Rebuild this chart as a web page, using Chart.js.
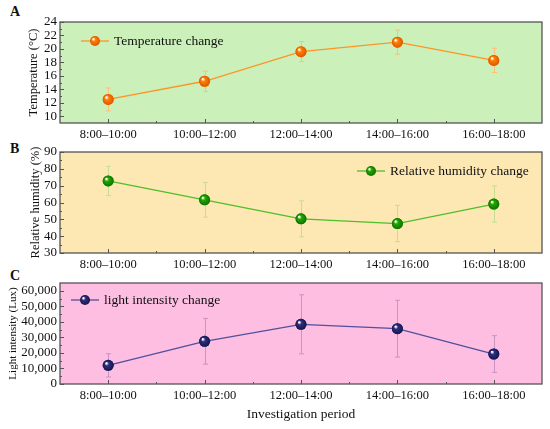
<!DOCTYPE html>
<html>
<head>
<meta charset="utf-8">
<script src="https://cdn.jsdelivr.net/npm/chart.js@4.4.0/dist/chart.umd.min.js"></script>
<style>
  body { margin: 0; background: #fff; width: 550px; height: 429px; position: relative; overflow: hidden; font-family: "Liberation Serif", serif; }
  canvas { position: absolute; left: 0; }
  .tag { position: absolute; left: 10px; font-weight: bold; font-size: 14px; line-height: 14px; color: #111; }
</style>
</head>
<body>
<span class="tag" style="top:5px">A</span>
<span class="tag" style="top:142px">B</span>
<span class="tag" style="top:269px">C</span>
<canvas id="chartA" style="top:0" width="550" height="140"></canvas>
<canvas id="chartB" style="top:140px" width="550" height="130"></canvas>
<canvas id="chartC" style="top:270px" width="550" height="159"></canvas>
<script>
// data
const periods  = ['8:00–10:00', '10:00–12:00', '12:00–14:00', '14:00–16:00', '16:00–18:00'];

const tempMean = [12.5, 15.2, 19.6, 21.0, 18.3];
const tempErr  = [1.7, 1.5, 1.5, 1.8, 1.8];
const tempTicks = [10, 12, 14, 16, 18, 20, 22, 24];

const humMean  = [72.8, 61.6, 50.3, 47.5, 59.1];
const humErr   = [8.7, 10.3, 10.7, 10.8, 10.8];
const humTicks = [30, 40, 50, 60, 70, 80, 90];

const luxMean  = [12000, 27500, 38400, 35600, 19300];
const luxErr   = [7500, 14700, 19000, 18300, 11800];
const luxTicks = [0, 10000, 20000, 30000, 40000, 50000, 60000];

const FONT = '"Liberation Serif", "Times New Roman", serif';

// sphere-like marker
function drawBall(ctx, x, y, r, base, dark) {
  const g = ctx.createRadialGradient(x - r * 0.35, y - r * 0.4, r * 0.1, x, y, r);
  g.addColorStop(0, '#ffffff');
  g.addColorStop(0.3, base);
  g.addColorStop(1, dark);
  ctx.beginPath();
  ctx.arc(x, y, r, 0, Math.PI * 2);
  ctx.fillStyle = g;
  ctx.fill();
}

const decoPlugin = {
  id: 'deco',
  beforeDraw(chart, args, o) {
    const {ctx, chartArea: a} = chart;
    ctx.save();
    ctx.fillStyle = o.bg;
    ctx.fillRect(a.left, a.top, a.right - a.left, a.bottom - a.top);
    ctx.restore();
  },
  beforeDatasetsDraw(chart, args, o) {
    const {ctx, scales: {x, y}} = chart;
    const mean = chart.data.datasets[0].data;
    ctx.save();
    ctx.strokeStyle = o.errColor;
    ctx.lineWidth = 1;
    mean.forEach((m, i) => {
      const px = Math.round(x.getPixelForValue(i)) + 0.5;
      const y1 = y.getPixelForValue(m + o.err[i]);
      const y2 = y.getPixelForValue(m - o.err[i]);
      ctx.beginPath();
      ctx.moveTo(px, y1); ctx.lineTo(px, y2);
      ctx.moveTo(px - 2.5, y1); ctx.lineTo(px + 2.5, y1);
      ctx.moveTo(px - 2.5, y2); ctx.lineTo(px + 2.5, y2);
      ctx.stroke();
    });
    ctx.restore();
  },
  afterDatasetsDraw(chart, args, o) {
    const {ctx} = chart;
    const meta = chart.getDatasetMeta(0);
    ctx.save();
    meta.data.forEach(pt => drawBall(ctx, pt.x, pt.y, 5.5, o.ball, o.ballDark));
    ctx.restore();
  },
  afterDraw(chart, args, o) {
    const {ctx, chartArea: a, scales: {x, y}} = chart;
    ctx.save();
    ctx.strokeStyle = '#555';
    ctx.lineWidth = 1.3;
    ctx.strokeRect(a.left, a.top, a.right - a.left, a.bottom - a.top);

    // inner ticks
    ctx.lineWidth = 1;
    ctx.beginPath();
    const n = chart.data.labels.length;
    for (let i = 0; i < n; i++) {
      const px = Math.round(x.getPixelForValue(i)) + 0.5;
      ctx.moveTo(px, a.bottom); ctx.lineTo(px, a.bottom - 4);
      if (i < n - 1) {
        const mx = Math.round((x.getPixelForValue(i) + x.getPixelForValue(i + 1)) / 2) + 0.5;
        ctx.moveTo(mx, a.bottom); ctx.lineTo(mx, a.bottom - 2);
      }
    }
    const t = o.ticks;
    for (let i = 0; i < t.length; i++) {
      const py = Math.round(y.getPixelForValue(t[i])) + 0.5;
      ctx.moveTo(a.left, py); ctx.lineTo(a.left + 4, py);
      if (i < t.length - 1) {
        const my = Math.round(y.getPixelForValue((t[i] + t[i + 1]) / 2)) + 0.5;
        ctx.moveTo(a.left, my); ctx.lineTo(a.left + 2, my);
      }
    }
    ctx.stroke();

    // legend inside the plot
    const lx = o.legendRight ? a.right - o.legendX : a.left + o.legendX;
    const ly = a.top + o.legendY;
    ctx.strokeStyle = o.line;
    ctx.lineWidth = 1.3;
    ctx.beginPath();
    ctx.moveTo(lx, ly); ctx.lineTo(lx + 28, ly);
    ctx.stroke();
    drawBall(ctx, lx + 14, ly, 5, o.ball, o.ballDark);
    ctx.fillStyle = '#111';
    ctx.font = '13.5px ' + FONT;
    ctx.textBaseline = 'middle';
    ctx.textAlign = 'left';
    ctx.fillText(chart.data.datasets[0].label, lx + 33, ly + 0.5);
    ctx.restore();
  }
};

function makePanel(id, p) {
  return new Chart(document.getElementById(id), {
    type: 'line',
    data: {
      labels: periods,
      datasets: [{
        label: p.label,
        data: p.mean,
        borderColor: p.line,
        borderWidth: 1.3,
        pointRadius: 5.5,
        pointBackgroundColor: p.ball,
        pointBorderWidth: 0,
        tension: 0
      }]
    },
    options: {
      responsive: false,
      animation: false,
      events: [],
      layout: { padding: { top: p.padTop, right: 8, left: 0, bottom: 0 } },
      plugins: {
        legend: { display: false },
        tooltip: { enabled: false },
        deco: {
          bg: p.bg, err: p.err, errColor: p.errColor, ticks: p.ticks,
          line: p.line, ball: p.ball, ballDark: p.ballDark,
          legendX: p.legendX, legendY: p.legendY, legendRight: p.legendRight
        }
      },
      scales: {
        x: {
          type: 'category',
          offset: true,
          grid: { display: false, drawTicks: false },
          border: { display: false },
          ticks: { font: { family: FONT, size: 12.5 }, color: '#111', padding: 4, maxRotation: 0, autoSkip: false },
          title: p.xTitle
            ? { display: true, text: p.xTitle, font: { family: FONT, size: 13.5 }, color: '#111', padding: { bottom: 6, top: 0 } }
            : { display: false },
          afterFit: s => { s.height = p.xHeight; }
        },
        y: {
          min: p.min,
          max: p.max,
          grid: { display: false, drawTicks: false },
          border: { display: false },
          afterBuildTicks: s => { s.ticks = p.ticks.map(v => ({ value: v })); },
          ticks: {
            font: { family: FONT, size: 13 }, color: '#111', padding: 3, autoSkip: false,
            callback: v => v.toLocaleString('en-US')
          },
          title: { display: true, text: p.yTitle, font: { family: FONT, size: p.yTitleSize }, color: '#111', padding: { top: p.yTitlePad, bottom: 0 } },
          afterFit: s => { s.width = 60; }
        }
      }
    },
    plugins: [decoPlugin]
  });
}

makePanel('chartA', {
  label: 'Temperature change', mean: tempMean, err: tempErr, ticks: tempTicks, min: 9, max: 24,
  bg: '#ccf0b9', line: '#ff9426', ball: '#ff7f00', ballDark: '#d95a00', errColor: '#f7c27e',
  padTop: 22, xHeight: 17, yTitle: 'Temperature (°C)', yTitleSize: 12.5, yTitlePad: 26,
  legendX: 21, legendY: 19, legendRight: false
});

makePanel('chartB', {
  label: 'Relative humidity change', mean: humMean, err: humErr, ticks: humTicks, min: 30, max: 90,
  bg: '#fde8b3', line: '#4cbf2a', ball: '#22a800', ballDark: '#117000', errColor: '#c9dc94',
  padTop: 12, xHeight: 17, yTitle: 'Relative humidity (%)', yTitleSize: 12.5, yTitlePad: 28,
  legendX: 185, legendY: 19, legendRight: true
});

makePanel('chartC', {
  label: 'light intensity change', mean: luxMean, err: luxErr, ticks: luxTicks, min: 0, max: 65000,
  bg: '#fdbee1', line: '#50509c', ball: '#2f2f80', ballDark: '#15154a', errColor: '#c994c0',
  padTop: 13, xHeight: 45, xTitle: 'Investigation period', yTitle: 'Light intensity (Lux)', yTitleSize: 11, yTitlePad: 7,
  legendX: 11, legendY: 17, legendRight: false
});
</script>
</body>
</html>
